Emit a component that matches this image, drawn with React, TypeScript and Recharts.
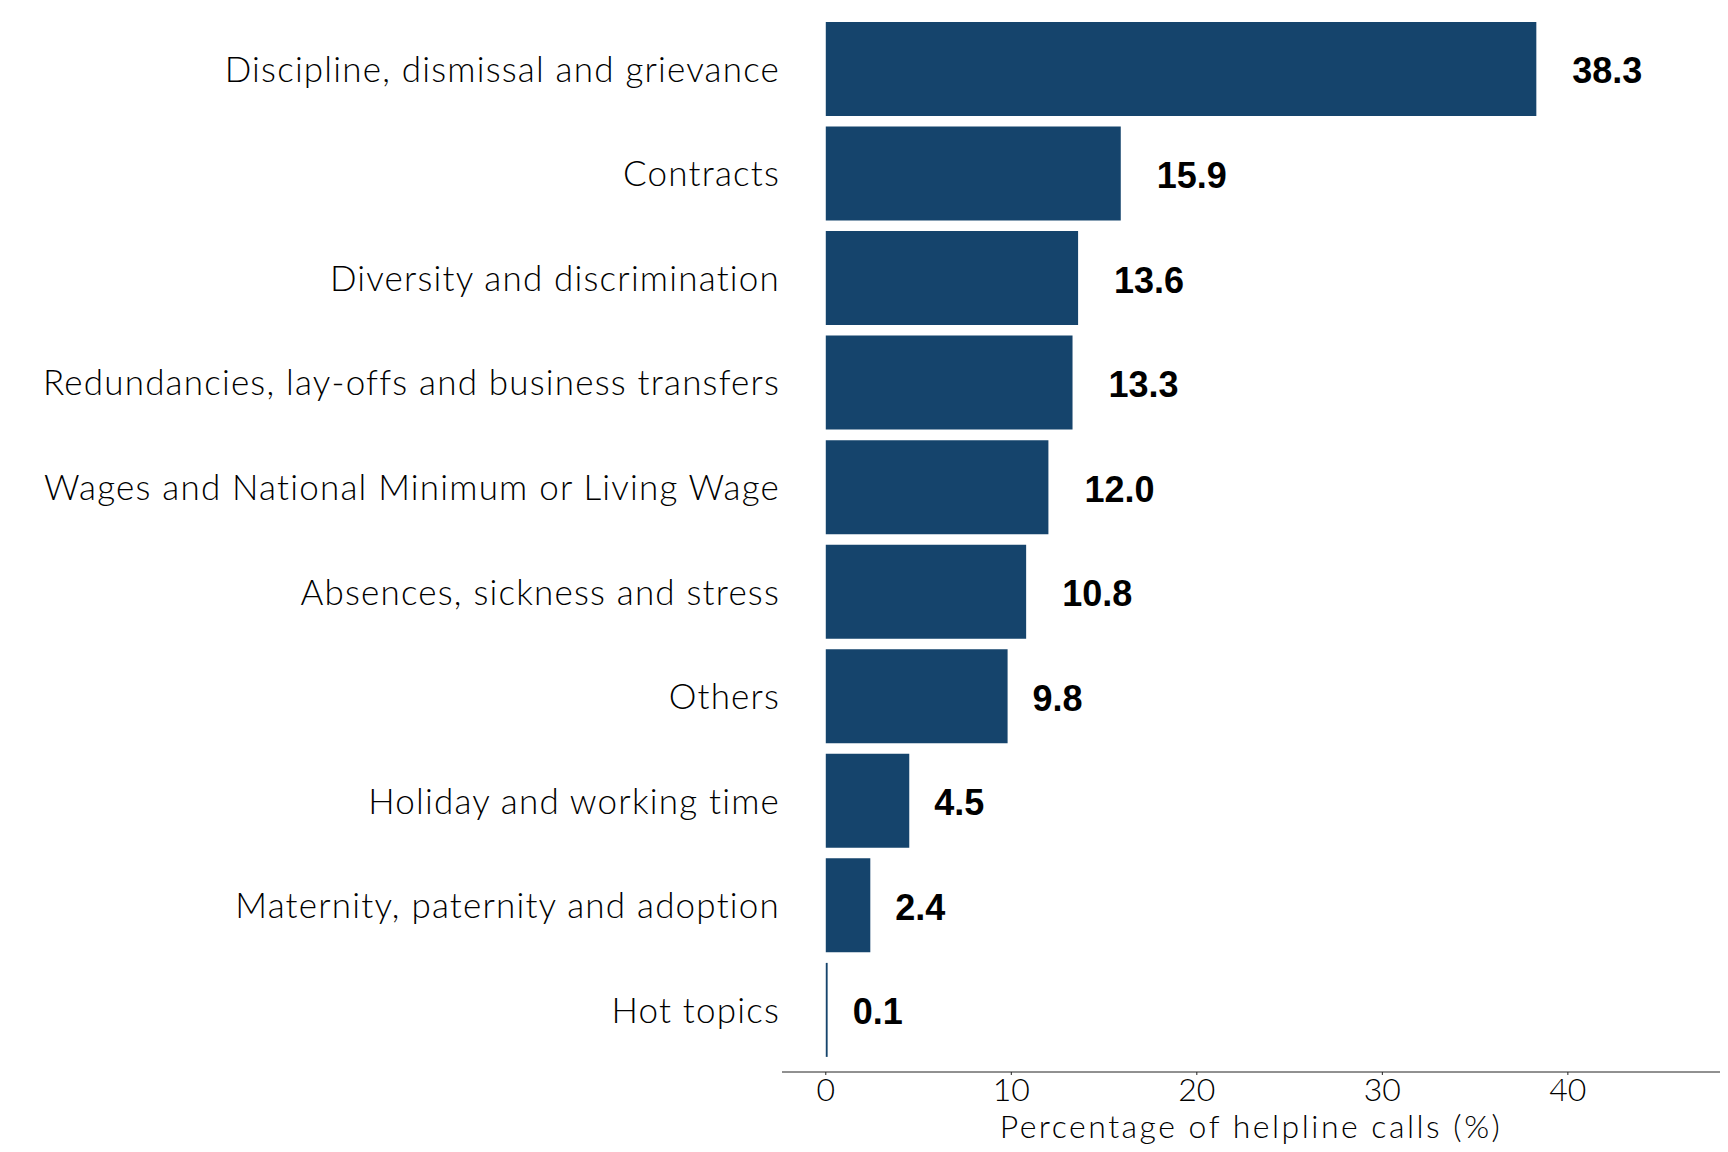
import { BarChart, Bar, XAxis, YAxis, LabelList } from "recharts";

const categories = [
  "Discipline, dismissal and grievance",
  "Contracts",
  "Diversity and discrimination",
  "Redundancies, lay-offs and business transfers",
  "Wages and National Minimum or Living Wage",
  "Absences, sickness and stress",
  "Others",
  "Holiday and working time",
  "Maternity, paternity and adoption",
  "Hot topics",
];

const shares = [38.3, 15.9, 13.6, 13.3, 12.0, 10.8, 9.8, 4.5, 2.4, 0.1];

const xTicks = [0, 10, 20, 30, 40];

const rows = categories.map((name, i) => ({ name, value: shares[i] }));

const labelFont = "Lato, 'Open Sans', sans-serif";

function CategoryTick(props: any) {
  const { x, y, payload } = props;
  return (
    <text
      x={x}
      y={y - 1}
      textAnchor="end"
      dominantBaseline="central"
      fontFamily={labelFont}
      fontWeight={300}
      fontSize={35}
      letterSpacing={1.2}
      fill="#000"
    >
      {payload.value}
    </text>
  );
}

function ValueLabel(props: any) {
  const { x, y, width, height, value } = props;
  const text = Number(value).toFixed(1);
  const gap = text.length > 3 ? 36 : 25;
  return (
    <text
      x={x + width + gap}
      y={y + height / 2 + 2}
      dominantBaseline="central"
      textAnchor="start"
      fontFamily="'Liberation Sans', Arial, sans-serif"
      fontWeight="bold"
      fontSize={36}
      fill="#000"
    >
      {text}
    </text>
  );
}

export default function App() {
  return (
    <div style={{ position: "absolute", left: 0, top: 0, background: "#fff" }}>
      <BarChart
        layout="vertical"
        width={1728}
        height={1152}
        data={rows}
        margin={{ top: 16.5, right: 8, bottom: 0, left: 0 }}
        barCategoryGap="5.2%"
      >
        <XAxis
          type="number"
          domain={[-2.36, 48.2]}
          ticks={xTicks}
          allowDataOverflow
          height={80}
          stroke="#222"
          tickSize={3}
          tickMargin={3}
          tick={{ fill: "#000", fontSize: 32, fontFamily: labelFont, fontWeight: 300 }}
          label={{
            value: "Percentage of helpline calls (%)",
            position: "insideBottom",
            offset: 14,
            fill: "#000",
            fontSize: 32,
            fontWeight: 300,
            letterSpacing: 2.5,
            fontFamily: labelFont,
          }}
        />
        <YAxis
          type="category"
          dataKey="name"
          width={782}
          axisLine={false}
          tickLine={false}
          tickSize={0}
          tickMargin={2}
          padding={{ top: 0, bottom: 10 }}
          interval={0}
          tick={<CategoryTick />}
        />
        <Bar dataKey="value" fill="#15446C" isAnimationActive={false}>
          <LabelList dataKey="value" content={<ValueLabel />} />
        </Bar>
      </BarChart>
    </div>
  );
}
